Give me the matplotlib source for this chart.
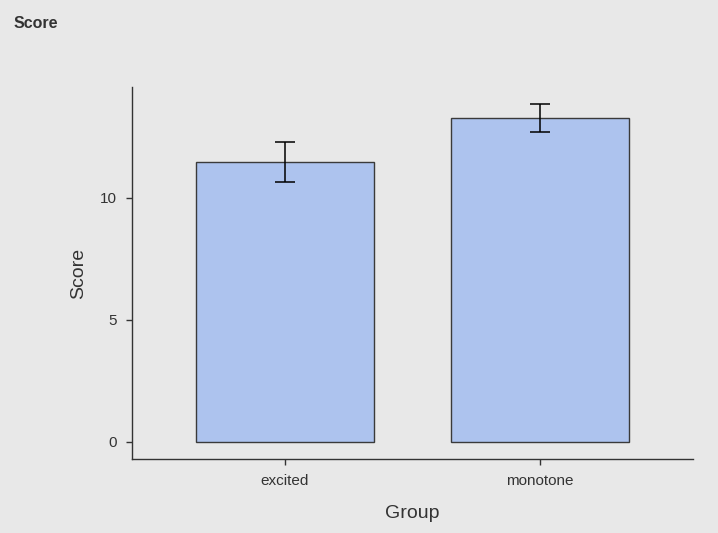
import numpy as np
import matplotlib
matplotlib.use("Agg")
import matplotlib.pyplot as plt

plt.rcParams['font.family'] = ['Liberation Sans', 'DejaVu Sans']

# datos
grupos = ["excited", "monotone"]
medias = [11.48, 13.28]
errores = [0.82, 0.57]

fondo = "#e8e8e8"
color_barra = "#adc3ee"
color_texto = "#333333"

fig = plt.figure(figsize=(7.18, 5.33), dpi=100, facecolor=fondo)
ax = fig.add_axes([0.1838, 0.1388, 0.7814, 0.698])
ax.set_facecolor(fondo)

x = np.arange(len(grupos))
ax.bar(x, medias, width=0.7, color=color_barra, edgecolor="#3a3a3a", linewidth=1.0, zorder=2)
ax.errorbar(x, medias, yerr=errores, fmt="none", ecolor="black", elinewidth=1.1,
            capsize=7.2, capthick=1.1, zorder=3)

ax.set_xlim(-0.6, 1.6)
ax.set_ylim(-0.70, 14.55)
ax.set_yticks([0, 5, 10])
ax.set_xticks(x)
ax.set_xticklabels(grupos)

for lado in ["top", "right"]:
    ax.spines[lado].set_visible(False)
for lado in ["left", "bottom"]:
    ax.spines[lado].set_color("#333333")
    ax.spines[lado].set_linewidth(1.0)

ax.tick_params(axis="both", colors="#333333", labelcolor=color_texto, labelsize=11,
               length=4, width=1.0)
ax.tick_params(axis="x", pad=7)
ax.tick_params(axis="y", pad=7)
ax.set_xlabel("Group", fontsize=14, color=color_texto, labelpad=12)
ax.set_ylabel("Score", fontsize=14, color=color_texto, labelpad=9)

fig.text(0.0195, 0.955, "Score", fontsize=11.5, fontweight="bold", color=color_texto,
         ha="left", va="center")

fig.savefig("out.png", dpi=100, facecolor=fondo)
